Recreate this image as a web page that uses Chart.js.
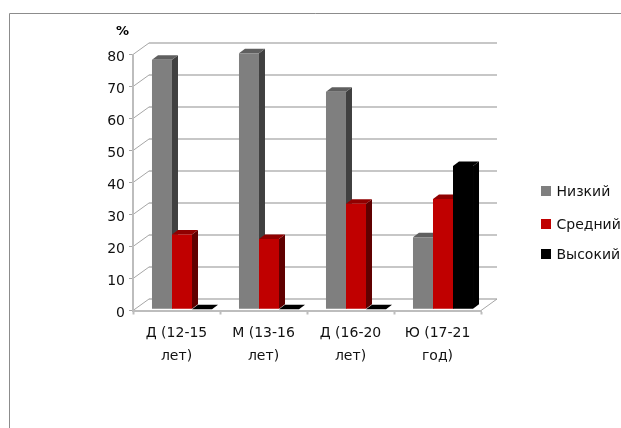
<!DOCTYPE html>
<html>
<head>
<meta charset="utf-8">
<style>
  html, body { margin: 0; padding: 0; background: #fff; overflow: hidden; }
  canvas { display: block; }
</style>
<script src="https://cdn.jsdelivr.net/npm/chart.js@4"></script>
</head>
<body>
<canvas id="chart" width="621" height="428"></canvas>
<script>
const categories = [['Д (12-15', 'лет)'], ['М (13-16', 'лет)'], ['Д (16-20', 'лет)'], ['Ю (17-21', 'год)']];
const seriesNames = ['Низкий', 'Средний', 'Высокий'];
const lowValues = [78, 80, 68, 22.5];
const midValues = [23.4, 22, 33, 34.5];
const highValues = [0, 0, 0, 44.8];
const yTicks = [0, 10, 20, 30, 40, 50, 60, 70, 80];

const fontFamily = '"DejaVu Sans", sans-serif';
const frontColors = ['#7f7f7f', '#c00000', '#000000'];
const sideColors = ['#404040', '#600000', '#000000'];
const topColors = ['#5f5f5f', '#900000', '#000000'];

// depth of the floor/walls and of the columns standing on it
const wallDepth = { x: 16, y: -11.5 };
const barDepth = { x: 6, y: -4.5 };
const barShift = { x: 5.5, y: -1.2 };

function fillPoly(ctx, color, pts) {
    ctx.fillStyle = color;
    ctx.beginPath();
    pts.forEach((p, i) => i ? ctx.lineTo(p[0], p[1]) : ctx.moveTo(p[0], p[1]));
    ctx.closePath();
    ctx.fill();
}

function strokeLine(ctx, x1, y1, x2, y2) {
    ctx.beginPath();
    ctx.moveTo(x1, y1);
    ctx.lineTo(x2, y2);
    ctx.stroke();
}

const scenePlugin = {
    id: 'scene',
    // outer frame, back wall lines and floor
    beforeDraw(chart) {
        const { ctx, chartArea: a, scales: { y } } = chart;

        // y labels sit a little below their ticks
        const items = y.getLabelItems(a);
        if (!items.moved) {
            items.forEach(item => { item.textOffset += 3; });
            items.moved = true;
        }

        ctx.save();
        ctx.strokeStyle = '#8c8c8c';
        ctx.lineWidth = 1;
        ctx.beginPath();
        ctx.moveTo(9.5, 428);
        ctx.lineTo(9.5, 13.5);
        ctx.lineTo(621, 13.5);
        ctx.stroke();

        yTicks.forEach(v => {
            const py = y.getPixelForValue(v);
            ctx.strokeStyle = '#a6a6a6';
            ctx.lineWidth = 1;
            strokeLine(ctx, a.left, py, a.left + wallDepth.x, py + wallDepth.y);
            ctx.strokeStyle = '#b4b4b4';
            ctx.lineWidth = 1.5;
            strokeLine(ctx, a.left + wallDepth.x, py + wallDepth.y, a.right + wallDepth.x, py + wallDepth.y);
        });
        ctx.strokeStyle = '#a6a6a6';
        ctx.lineWidth = 1;
        strokeLine(ctx, a.right, a.bottom, a.right + wallDepth.x, a.bottom + wallDepth.y);
        ctx.restore();
    },
    // columns go left to right so each front face covers the neighbour's side
    beforeDatasetsDraw(chart) {
        const { ctx } = chart;
        ctx.save();
        ctx.translate(barShift.x, barShift.y);
        chart.data.datasets.forEach((ds, i) => {
            chart.getDatasetMeta(i).data.forEach(bar => {
                const { x, y, base, width } = bar.getProps(['x', 'y', 'base', 'width']);
                const l = x - width / 2, r = x + width / 2;
                const dx = barDepth.x, dy = barDepth.y;
                fillPoly(ctx, sideColors[i], [[r, y], [r + dx, y + dy], [r + dx, base + dy], [r, base]]);
                fillPoly(ctx, topColors[i], [[l, y], [l + dx, y + dy], [r + dx, y + dy], [r, y]]);
                bar.draw(ctx);
            });
        });
        ctx.restore();
        return false;
    },
    afterDraw(chart) {
        const { ctx } = chart;
        ctx.save();
        ctx.textBaseline = 'middle';
        ctx.fillStyle = '#000';
        ctx.font = 'bold 13px ' + fontFamily;
        ctx.textAlign = 'center';
        ctx.fillText('%', 122.5, 32);

        const rowY = [191, 224, 254];
        ctx.textAlign = 'left';
        ctx.font = '14px ' + fontFamily;
        seriesNames.forEach((name, i) => {
            ctx.fillStyle = frontColors[i];
            ctx.fillRect(541, rowY[i] - 5, 10, 10);
            ctx.fillStyle = '#111';
            ctx.fillText(name, 556.5, rowY[i] + 1.5);
        });
        ctx.restore();
    }
};

new Chart(document.getElementById('chart'), {
    type: 'bar',
    data: {
        labels: categories,
        datasets: [lowValues, midValues, highValues].map((values, i) => ({
            label: seriesNames[i],
            data: values,
            backgroundColor: frontColors[i],
            borderWidth: 0,
            barPercentage: 1,
            categoryPercentage: 0.69
        }))
    },
    plugins: [scenePlugin],
    options: {
        responsive: false,
        animation: false,
        layout: { padding: { left: 0, top: 54.5, right: 140, bottom: 0 } },
        plugins: { legend: { display: false }, tooltip: { enabled: false } },
        scales: {
            x: {
                afterFit: scale => { scale.height = 117.5; },
                border: { color: '#bdbdbd', width: 2 },
                grid: { drawOnChartArea: false, tickLength: 4, tickColor: '#bdbdbd', tickWidth: 2 },
                ticks: {
                    color: '#111',
                    padding: 7,
                    maxRotation: 0,
                    font: { family: fontFamily, size: 14, lineHeight: 1.65 }
                }
            },
            y: {
                min: 0,
                max: 80,
                afterFit: scale => { scale.width = 133; },
                afterBuildTicks: scale => { scale.ticks = yTicks.map(value => ({ value })); },
                border: { color: '#bdbdbd', width: 2 },
                grid: { drawOnChartArea: false, tickLength: 4, tickColor: '#a6a6a6' },
                ticks: {
                    color: '#111',
                    padding: 4,
                    font: { family: fontFamily, size: 14 }
                }
            }
        }
    }
});
</script>
</body>
</html>
